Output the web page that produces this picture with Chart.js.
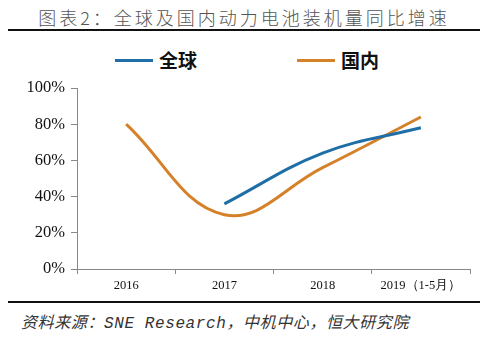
<!DOCTYPE html>
<html>
<head>
<meta charset="utf-8">
<script src="https://cdn.jsdelivr.net/npm/chart.js@4"></script>
<style>
    body { margin: 0; width: 488px; height: 338px; background: #fff; position: relative; overflow: hidden; }
    #titulo { position: absolute; left: 0; top: 4px; width: 488px; text-align: center; font-family: "Noto Sans CJK SC"; font-weight: 300; font-size: 18px; letter-spacing: 3px; color: #555; }
    .regua { position: absolute; left: 8px; width: 472px; height: 2px; background: #111; }
    #legenda { position: absolute; top: 46px; left: 0; width: 488px; height: 28px; }
    .item { position: absolute; top: 0; font-family: "Noto Sans CJK SC"; font-weight: 700; font-size: 19px; color: #111; line-height: 28px; }
    .item span { display: inline-block; width: 38px; height: 3px; vertical-align: middle; margin-right: 6px; position: relative; top: -2px; }
    #rodape { position: absolute; left: 21px; top: 309px; font-family: "Liberation Mono", "Noto Sans CJK SC"; font-style: italic; font-size: 16px; letter-spacing: 0.6px; color: #333; white-space: nowrap; }
    #grafico { position: absolute; left: 0; top: 0; }
</style>
</head>
<body>
<div id="titulo">图表2：全球及国内动力电池装机量同比增速</div>
<div class="regua" style="top:29px"></div>
<div id="legenda">
    <div class="item" style="left:115px"><span style="background:#1f6fa6"></span>全球</div>
    <div class="item" style="left:297px"><span style="background:#d5812a"></span>国内</div>
</div>
<canvas id="grafico" width="488" height="300"></canvas>
<div class="regua" style="top:301px"></div>
<div id="rodape">资料来源：SNE Research，中机中心，恒大研究院</div>

<script>
// anos e taxas de crescimento (%)
const anos = ['2016', '2017', '2018', '2019（1-5月）'];
const global = [null, 36, 64, 78];
const domestico = [80, 30, 56, 84];
const marcasY = [0, 20, 40, 60, 80, 100];

const corGlobal = '#1f6fa6';
const corDomestico = '#d5812a';

function gerarChartCrescimento() {
    const data = {
        labels: anos,
        datasets: [
            {
                label: '全球',
                data: global,
                borderColor: corGlobal,
                backgroundColor: corGlobal,
                borderWidth: 3,
                pointRadius: 0,
                tension: 0.4
            },
            {
                label: '国内',
                data: domestico,
                borderColor: corDomestico,
                backgroundColor: corDomestico,
                borderWidth: 3,
                pointRadius: 0,
                tension: 0.4
            }
        ]
    };

    const config = {
        type: 'line',
        data: data,
        options: {
            responsive: false,
            animation: false,
            layout: {
                padding: { top: 88, right: 18, left: 0, bottom: 0 }
            },
            plugins: {
                legend: { display: false },
                tooltip: { enabled: false }
            },
            scales: {
                x: {
                    offset: true,
                    grid: {
                        offset: true,
                        drawOnChartArea: false,
                        tickLength: 5,
                        color: '#888'
                    },
                    border: { color: '#888' },
                    ticks: {
                        color: '#111',
                        padding: 4,
                        font: { family: 'Liberation Serif', size: 12.5 }
                    },
                    afterFit: function (escala) { escala.height = 31; }
                },
                y: {
                    min: 0,
                    max: 100,
                    afterBuildTicks: function (escala) {
                        escala.ticks = marcasY.map(function (v) { return { value: v }; });
                    },
                    grid: {
                        drawOnChartArea: false,
                        tickLength: 6,
                        color: '#888'
                    },
                    border: { color: '#888' },
                    ticks: {
                        color: '#111',
                        padding: 6,
                        font: { family: 'Liberation Serif', size: 16.5 },
                        callback: function (v) { return v + '%'; }
                    },
                    afterFit: function (escala) { escala.width = 77; }
                }
            }
        }
    };

    const chartCrescimento = new Chart(document.getElementById('grafico'), config);
}

gerarChartCrescimento();
</script>
</body>
</html>
